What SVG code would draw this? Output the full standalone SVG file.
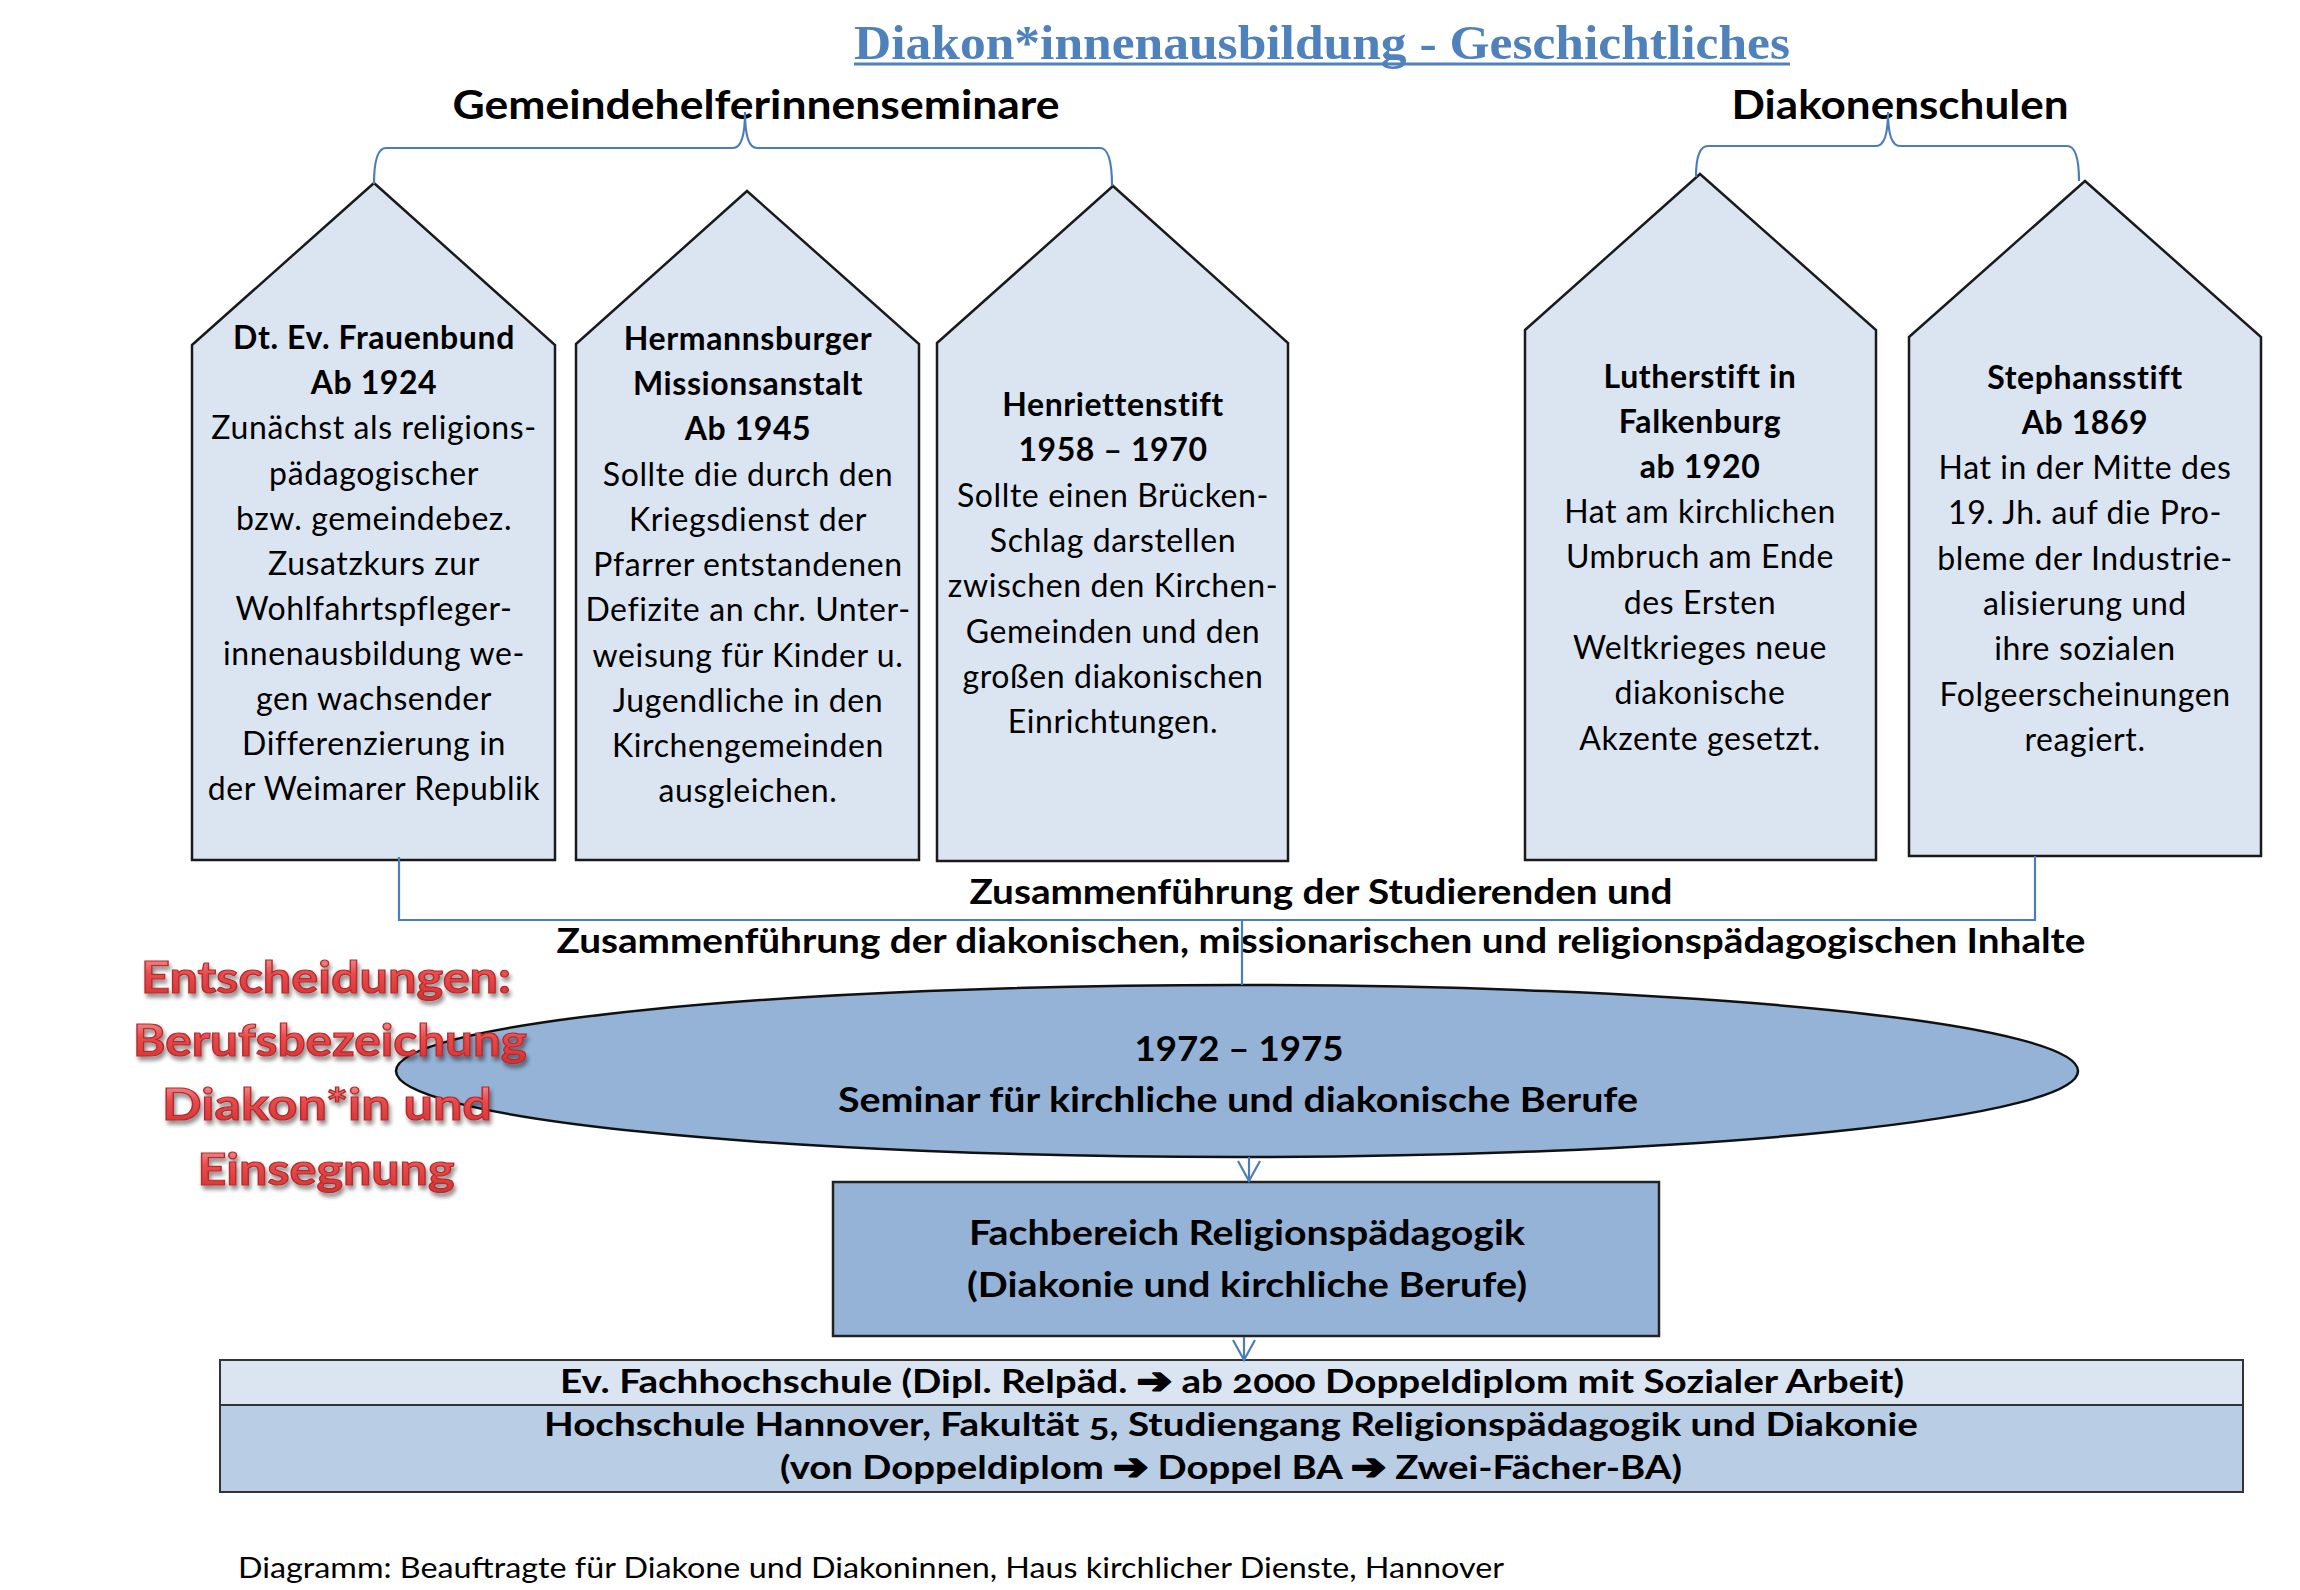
<svg xmlns="http://www.w3.org/2000/svg" width="2300" height="1590" viewBox="0 0 2300 1590">
<defs>
<style>
.house{fill:#DBE5F1;stroke:#1a1a1a;stroke-width:2.5}
.t{font-family:Lato,"Open Sans","DejaVu Sans",sans-serif;fill:#000;text-anchor:middle}
.ht{font-size:32px;letter-spacing:0.6px}
.b{font-weight:bold}
.conn{fill:none;stroke:#4A7EBB;stroke-width:2.2}
.red{font-family:Lato,"DejaVu Sans",sans-serif;font-weight:bold;font-size:43px;text-anchor:middle;fill:url(#redg);stroke:#B52A2D;stroke-width:1.2;filter:url(#shadow)}
.onum{font-variant-numeric:oldstyle-nums}
.arw{font-family:"DejaVu Sans",sans-serif;font-weight:bold;font-size:36px;stroke:#000;stroke-width:2.2;stroke-linejoin:round}
</style>
<linearGradient id="redg" x1="0" y1="0" x2="0" y2="1">
<stop offset="0" stop-color="#F6A9A9"/>
<stop offset="0.45" stop-color="#E84B4C"/>
<stop offset="1" stop-color="#D3302F"/>
</linearGradient>
<filter id="shadow" x="-10%" y="-20%" width="120%" height="150%">
<feGaussianBlur in="SourceAlpha" stdDeviation="2"/>
<feOffset dx="2" dy="4" result="o"/>
<feComponentTransfer><feFuncA type="linear" slope="0.45"/></feComponentTransfer>
<feMerge><feMergeNode/><feMergeNode in="SourceGraphic"/></feMerge>
</filter>
<marker id="arr" viewBox="0 0 24 24" refX="21" refY="12" markerWidth="24" markerHeight="24" markerUnits="userSpaceOnUse" orient="auto">
<path d="M1,1 L21,12 L1,23" fill="none" stroke="#4A7EBB" stroke-width="2.2"/>
</marker>
</defs>
<rect width="2300" height="1590" fill="#fff"/>

<!-- Title & headers -->
<g id="title">
<text x="854" y="59" textLength="936" lengthAdjust="spacingAndGlyphs" style="font-family:'Liberation Serif',serif;font-weight:bold;font-size:48px;fill:#4F81BD">Diakon*innenausbildung - Geschichtliches</text>
<line x1="854" y1="64" x2="1790" y2="64" stroke="#4F81BD" stroke-width="3"/>
</g>
<g id="header-gemeinde"><text class="t b" x="756" y="119" style="font-size:40px" textLength="607" lengthAdjust="spacingAndGlyphs">Gemeindehelferinnenseminare</text></g>
<g id="header-diakonen"><text class="t b" x="1900" y="119" style="font-size:40px" textLength="337" lengthAdjust="spacingAndGlyphs">Diakonenschulen</text></g>

<!-- Houses -->
<g id="house-frauenbund">
<polygon class="house" points="192,345 374,183 555,345 555,860 192,860"/>
<text class="t ht b" x="374" y="349">Dt. Ev. Frauenbund</text>
<text class="t ht b" x="374" y="394">Ab 1924</text>
<text class="t ht" x="374" y="439">Zunächst als religions-</text>
<text class="t ht" x="374" y="485">pädagogischer</text>
<text class="t ht" x="374" y="530">bzw. gemeindebez.</text>
<text class="t ht" x="374" y="575">Zusatzkurs zur</text>
<text class="t ht" x="374" y="620">Wohlfahrtspfleger-</text>
<text class="t ht" x="374" y="665">innenausbildung we-</text>
<text class="t ht" x="374" y="710">gen wachsender</text>
<text class="t ht" x="374" y="755">Differenzierung in</text>
<text class="t ht" x="374" y="800">der Weimarer Republik</text>
</g>
<g id="house-hermannsburg">
<polygon class="house" points="576,344 747,191 919,344 919,860 576,860"/>
<text class="t ht b" x="748" y="350">Hermannsburger</text>
<text class="t ht b" x="748" y="395">Missionsanstalt</text>
<text class="t ht b" x="748" y="440">Ab 1945</text>
<text class="t ht" x="748" y="486">Sollte die durch den</text>
<text class="t ht" x="748" y="531">Kriegsdienst der</text>
<text class="t ht" x="748" y="576">Pfarrer entstandenen</text>
<text class="t ht" x="748" y="621">Defizite an chr. Unter-</text>
<text class="t ht" x="748" y="667">weisung für Kinder u.</text>
<text class="t ht" x="748" y="712">Jugendliche in den</text>
<text class="t ht" x="748" y="757">Kirchengemeinden</text>
<text class="t ht" x="748" y="802">ausgleichen.</text>
</g>
<g id="house-henriettenstift">
<polygon class="house" points="937,343 1113,186 1288,343 1288,861 937,861"/>
<text class="t ht b" x="1113" y="416">Henriettenstift</text>
<text class="t ht b" x="1113" y="461">1958 – 1970</text>
<text class="t ht" x="1113" y="507">Sollte einen Brücken-</text>
<text class="t ht" x="1113" y="552">Schlag darstellen</text>
<text class="t ht" x="1113" y="597">zwischen den Kirchen-</text>
<text class="t ht" x="1113" y="643">Gemeinden und den</text>
<text class="t ht" x="1113" y="688">großen diakonischen</text>
<text class="t ht" x="1113" y="733">Einrichtungen.</text>
</g>
<g id="house-lutherstift">
<polygon class="house" points="1525,330 1700,174 1876,330 1876,860 1525,860"/>
<text class="t ht b" x="1700" y="388">Lutherstift in</text>
<text class="t ht b" x="1700" y="433">Falkenburg</text>
<text class="t ht b" x="1700" y="478">ab 1920</text>
<text class="t ht" x="1700" y="523">Hat am kirchlichen</text>
<text class="t ht" x="1700" y="568">Umbruch am Ende</text>
<text class="t ht" x="1700" y="614">des Ersten</text>
<text class="t ht" x="1700" y="659">Weltkrieges neue</text>
<text class="t ht" x="1700" y="704">diakonische</text>
<text class="t ht" x="1700" y="750">Akzente gesetzt.</text>
</g>
<g id="house-stephansstift">
<polygon class="house" points="1909,337 2085,181 2261,337 2261,856 1909,856"/>
<text class="t ht b" x="2085" y="389">Stephansstift</text>
<text class="t ht b" x="2085" y="434">Ab 1869</text>
<text class="t ht" x="2085" y="479">Hat in der Mitte des</text>
<text class="t ht" x="2085" y="524">19. Jh. auf die Pro-</text>
<text class="t ht" x="2085" y="570">bleme der Industrie-</text>
<text class="t ht" x="2085" y="615">alisierung und</text>
<text class="t ht" x="2085" y="660">ihre sozialen</text>
<text class="t ht" x="2085" y="706">Folgeerscheinungen</text>
<text class="t ht" x="2085" y="751">reagiert.</text>
</g>

<!-- Merge labels -->
<g id="label-zusammen">
<text class="t b" x="1321" y="904" style="font-size:34px" textLength="703" lengthAdjust="spacingAndGlyphs">Zusammenführung der Studierenden und</text>
<text class="t b" x="1321" y="953" style="font-size:34px" textLength="1529" lengthAdjust="spacingAndGlyphs">Zusammenführung der diakonischen, missionarischen und religionspädagogischen Inhalte</text>
</g>

<!-- Seminar ellipse -->
<g id="seminar">
<ellipse cx="1237" cy="1071" rx="841" ry="86" fill="#95B3D7" stroke="#111" stroke-width="2.5"/>
<text class="t b" x="1239" y="1061" style="font-size:35px" textLength="209" lengthAdjust="spacingAndGlyphs">1972 – 1975</text>
<text class="t b" x="1238" y="1112" style="font-size:35px" textLength="800" lengthAdjust="spacingAndGlyphs">Seminar für kirchliche und diakonische Berufe</text>
</g>

<!-- Fachbereich -->
<g id="fachbereich">
<rect x="833" y="1182" width="826" height="154" fill="#95B3D7" stroke="#222" stroke-width="2.5"/>
<text class="t b" x="1247" y="1245" style="font-size:34px" textLength="556" lengthAdjust="spacingAndGlyphs">Fachbereich Religionspädagogik</text>
<text class="t b" x="1247" y="1297" style="font-size:34px" textLength="560" lengthAdjust="spacingAndGlyphs">(Diakonie und kirchliche Berufe)</text>
</g>

<!-- Hochschule rows -->
<g id="ev-fachhochschule">
<rect x="220" y="1360" width="2023" height="45" fill="#DBE5F1" stroke="#333" stroke-width="2"/>
<text class="t b onum" x="1232" y="1393" style="font-size:33px" textLength="1344" lengthAdjust="spacingAndGlyphs">Ev. Fachhochschule (Dipl. Relpäd. <tspan class="arw">➔</tspan> ab 2000 Doppeldiplom mit Sozialer Arbeit)</text>
</g>
<g id="hochschule-hannover">
<rect x="220" y="1405" width="2023" height="87" fill="#B9CDE5" stroke="#333" stroke-width="2"/>
<text class="t b onum" x="1231" y="1436" style="font-size:33px" textLength="1374" lengthAdjust="spacingAndGlyphs">Hochschule Hannover, Fakultät 5, Studiengang Religionspädagogik und Diakonie</text>
<text class="t b" x="1231" y="1479" style="font-size:33px" textLength="902" lengthAdjust="spacingAndGlyphs">(von Doppeldiplom <tspan class="arw">➔</tspan> Doppel BA <tspan class="arw">➔</tspan> Zwei-Fächer-BA)</text>
</g>

<!-- Connectors -->
<g id="connectors">
<path class="conn" d="M374,184 Q374,148 386,148 L733,148 Q745,148 745,112 Q745,148 757,148 L1100,148 Q1112,148 1112,186"/>
<path class="conn" d="M1696,177 Q1696,146 1708,146 L1876,146 Q1888,146 1888,112 Q1888,146 1900,146 L2067,146 Q2079,146 2079,181"/>
<path class="conn" d="M399,857 V920 H2035 V856"/>
<path class="conn" d="M1242,920 V985"/>
<path class="conn" d="M1249,1157 V1181" marker-end="url(#arr)"/>
<path class="conn" d="M1244,1337 V1360" marker-end="url(#arr)"/>
</g>

<!-- Decisions (red) -->
<g id="entscheidungen">
<text class="red" x="326" y="993" textLength="370" lengthAdjust="spacingAndGlyphs">Entscheidungen:</text>
<text class="red" x="330" y="1056" textLength="394" lengthAdjust="spacingAndGlyphs">Berufsbezeichung</text>
<text class="red" x="327" y="1120" textLength="330" lengthAdjust="spacingAndGlyphs">Diakon*in und</text>
<text class="red" x="326" y="1185" textLength="257" lengthAdjust="spacingAndGlyphs">Einsegnung</text>
</g>

<!-- Footer -->
<g id="footer">
<text x="238" y="1578" textLength="1266" lengthAdjust="spacingAndGlyphs" style="font-family:Lato,'Open Sans',sans-serif;font-size:28px;fill:#000">Diagramm: Beauftragte für Diakone und Diakoninnen, Haus kirchlicher Dienste, Hannover</text>
</g>
</svg>
